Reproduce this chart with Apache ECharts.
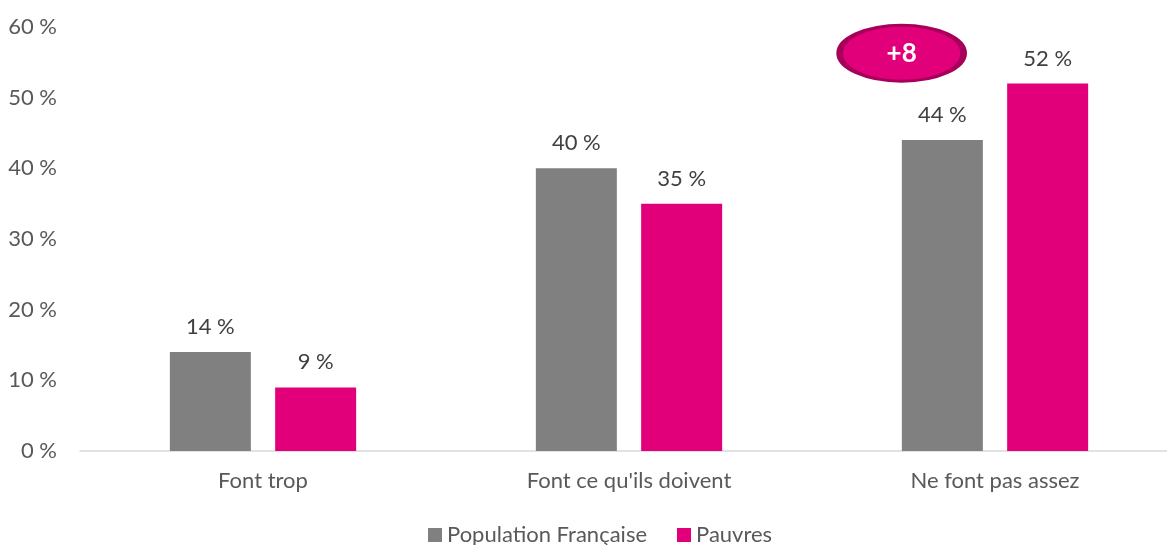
<!DOCTYPE html>
<html>
<head>
<meta charset="utf-8">
<script src="https://cdn.jsdelivr.net/npm/echarts@6/dist/echarts.min.js"></script>
<style>
  html, body { margin: 0; padding: 0; background: #fff; }
  #chart { width: 1167px; height: 545px; }
</style>
</head>
<body>
<div id="chart"></div>
<script>
const categories = ['Font trop', "Font ce qu'ils doivent", 'Ne font pas assez']
const populationFr = [14, 40, 44]
const pauvres = [9, 35, 52]
const yTicks = [0, 10, 20, 30, 40, 50, 60]
const ecartLabel = '+8'

const font = 'Lato, "Open Sans", sans-serif'
let myChart = echarts.init(document.getElementById('chart'))
let option = {
    animation: false,
    textStyle: { fontFamily: font },
    grid: { left: 80, right: -11, top: 27, bottom: 94, outerBoundsMode: 'none' },
    legend: {
        top: 519,
        left: 423,
        itemWidth: 14,
        itemHeight: 14,
        itemGap: 30,
        icon: 'rect',
        textStyle: { fontSize: 22, color: '#595959', fontFamily: font },
        data: ['Population Française', 'Pauvres']
    },
    xAxis: {
        type: 'category',
        data: categories,
        axisTick: { show: false },
        axisLine: { lineStyle: { color: '#d9d9d9', width: 1.5 } },
        axisLabel: { fontSize: 22, color: '#595959', margin: 19, fontFamily: font }
    },
    yAxis: {
        type: 'value',
        min: yTicks[0],
        max: yTicks[yTicks.length - 1],
        interval: 10,
        splitLine: { show: false },
        axisLine: { show: false },
        axisLabel: { fontSize: 22, color: '#595959', margin: 23, formatter: '{value} %', fontFamily: font }
    },
    series: [
        {
            name: 'Population Française',
            type: 'bar',
            data: populationFr,
            barWidth: 81,
            barGap: '30%',
            itemStyle: { color: '#808080' },
            label: { show: true, position: 'top', distance: 14, fontSize: 22, color: '#404040', formatter: '{c} %', fontFamily: font }
        },
        {
            name: 'Pauvres',
            type: 'bar',
            data: pauvres,
            barWidth: 81,
            itemStyle: { color: '#e2007a' },
            label: { show: true, position: 'top', distance: 14, fontSize: 22, color: '#404040', formatter: '{c} %', fontFamily: font },
            markPoint: {
                silent: true,
                data: [{
                    coord: ['Ne font pas assez', 56.3],
                    symbol: 'circle',
                    symbolSize: [124, 56],
                    symbolOffset: [-146, 0],
                    itemStyle: { color: '#e2007a', borderColor: '#a8005a', borderWidth: 4.5 },
                    label: {
                        show: true,
                        position: 'inside',
                        formatter: ecartLabel,
                        color: '#fff',
                        fontSize: 26,
                        fontWeight: 'bold',
                        fontFamily: font
                    }
                }]
            }
        }
    ]
}
myChart.setOption(option)
window.addEventListener('resize', function () {
    myChart.resize()
})
</script>
</body>
</html>
